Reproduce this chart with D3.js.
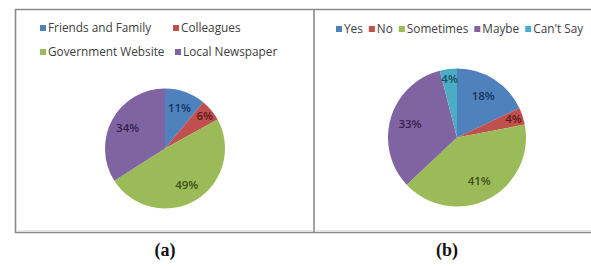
<!DOCTYPE html>
<html>
<head>
<meta charset="utf-8">
<script src="https://cdn.jsdelivr.net/npm/d3@7"></script>
<style>
body { margin: 0; background: #fff; }
svg { display: block; }
</style>
</head>
<body>
<svg></svg>
<script>
const width = 591;
const height = 266;

// data
const sourcesA = ["Friends and Family", "Colleagues", "Government Website", "Local Newspaper"];
const valuesA = [11, 6, 49, 34];
const answersB = ["Yes", "No", "Sometimes", "Maybe", "Can't Say"];
const valuesB = [18, 4, 41, 33, 4];
const captions = ["(a)", "(b)"];

const fills = ["#4F81BD", "#C0504D", "#9BBB59", "#8064A2", "#4BACC6"];
const labelFills = ["#15365f", "#5e1a18", "#3d4f18", "#35214f", "#174f5e"];
const fontFam = "'Open Sans', 'Noto Sans', sans-serif";
const legendSize = 11.8;

const svg = d3.select("svg").attr("width", width).attr("height", height);
svg.append("rect").attr("width", width).attr("height", height).attr("fill", "#fff");

// panel frames
const frame = svg.append("g");
frame.append("path")
	.attr("d", "M15.5,233 V9.5 H591 M314,9.5 V233 M15,232.5 H591")
	.attr("fill", "none").attr("stroke", "#8a8a8a").attr("stroke-width", 1.6);
frame.append("path")
	.attr("d", "M17.5,230.5 H312 M316,230.5 H591")
	.attr("fill", "none").attr("stroke", "#e6e6e6").attr("stroke-width", 1);

function drawPie(values, cx, cy, r) {
	const pie = d3.pie().sort(null).value((d) => d);
	const arc = d3.arc().innerRadius(0).outerRadius(r);
	const g = svg.append("g").attr("transform", `translate(${cx},${cy})`);
	const arcs = pie(values);
	g.selectAll("path")
		.data(arcs)
		.enter()
		.append("path")
		.attr("d", arc)
		.attr("fill", (d, i) => fills[i]);
	g.selectAll("text")
		.data(arcs)
		.enter()
		.append("text")
		.attr("transform", (d) => {
			const k = d.data < 8 ? 0.86 : 0.71;
			const a = (d.startAngle + d.endAngle) / 2;
			return `translate(${Math.sin(a) * r * k},${-Math.cos(a) * r * k})`;
		})
		.attr("text-anchor", "middle")
		.attr("dy", "0.35em")
		.attr("font-family", fontFam)
		.attr("font-size", 11.5)
		.attr("font-weight", 600)
		.attr("fill", (d, i) => labelFills[i])
		.text((d) => d.data + "%");
}

function drawLegend(names, positions) {
	const g = svg.append("g").attr("font-family", fontFam).attr("font-size", legendSize).attr("fill", "#404040");
	names.forEach((name, i) => {
		const [x, y] = positions[i];
		g.append("rect").attr("x", x).attr("y", y - 3).attr("width", 6).attr("height", 6).attr("fill", fills[i]);
		g.append("text").attr("x", x + 8).attr("y", y).attr("dy", "0.35em").text(name);
	});
}

drawPie(valuesA, 165, 148.5, 60);
drawPie(valuesB, 457, 137.5, 69);

drawLegend(sourcesA, [[40, 28], [173, 28], [40, 52], [175, 52]]);

// legend b flows in one row
const gap = 6;
let lx = 336;
const posB = [];
const tmp = svg.append("text").attr("font-family", fontFam).attr("font-size", legendSize);
answersB.forEach((name) => {
	posB.push([lx, 29]);
	tmp.text(name);
	lx += 8 + tmp.node().getComputedTextLength() + gap;
});
tmp.remove();
drawLegend(answersB, posB);

svg.selectAll(".cap")
	.data(captions)
	.enter()
	.append("text")
	.attr("class", "cap")
	.attr("x", (d, i) => [165, 447][i])
	.attr("y", 256)
	.attr("text-anchor", "middle")
	.attr("font-family", "'Liberation Serif', 'Times New Roman', serif")
	.attr("font-weight", "bold")
	.attr("font-size", 18)
	.attr("fill", "#111")
	.text((d) => d);
</script>
</body>
</html>
